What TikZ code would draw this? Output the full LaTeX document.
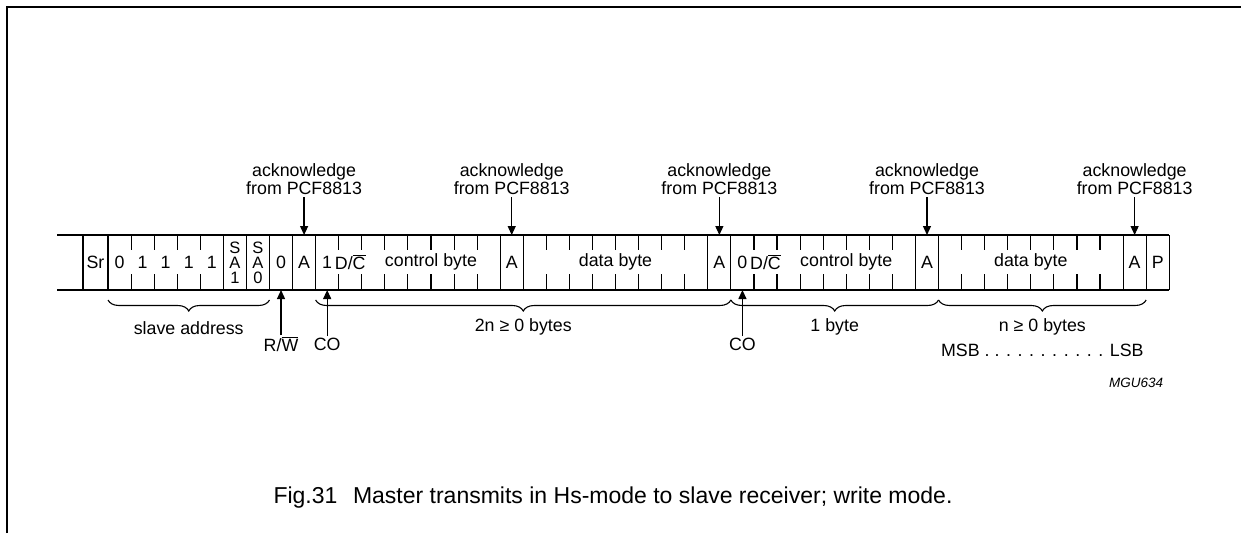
\documentclass[tikz,border=0pt]{standalone}
\usepackage{fontspec}
\setmainfont{Liberation Sans}
\usepackage{tikz}
\usetikzlibrary{arrows.meta,positioning,calc,decorations.pathreplacing}

\newcommand{\bitw}{23.07}
\newcommand{\ovl}[1]{$\overline{\mbox{#1}}$}

\begin{document}
\begin{tikzpicture}[x=1pt, y=-1pt, line width=1.1pt,
    font=\fontsize{17.8}{18}\selectfont,
    ptr/.style={-{Triangle[length=9pt, width=8pt]}, line width=1.2pt},
    grp/.style={decorate, decoration={brace, mirror, amplitude=11pt}, line width=1.1pt},
    lbl/.style={inner sep=1pt}]
    \useasboundingbox (0,0) rectangle (1241,533);

    % Page frame
    \draw[line width=1.6pt] (7,533) -- (7,7) -- (1241,7);

    % Bit boundaries
    \foreach \k in {0,...,46} {
        \coordinate (t\k) at ({108+\k*\bitw},235);
        \coordinate (b\k) at ({108+\k*\bitw},290);
    }

    % Strip outline and full separators
    \draw (57,235) -- (t46);
    \draw (57,290) -- (b46);
    \draw (83,235) -- (83,290);
    \foreach \k in {0,5,6,7,8,9,17,18,26,27,35,36,44,45,46}
        \draw (t\k) -- (b\k);

    % Short ticks inside bytes
    \foreach \k in {1,...,4,10,11,...,16,19,20,...,25,28,29,...,34,37,38,...,43} {
        \draw (t\k) -- ++(0,15);
        \draw (b\k) -- ++(0,-16);
    }

    % Field contents
    \node at (95.5,262) {Sr};
    \node at ({108+0.5*\bitw},262) {0};
    \foreach \k in {1,...,4}
        \node at ({108+(\k+0.5)*\bitw},262) {1};
    % stacked SA1 / SA0 bits
    \foreach \k/\d in {5/1,6/0} {
        \node[inner sep=0pt, font=\fontsize{16.5}{17}\selectfont] at ({108+(\k+0.5)*\bitw},247.5) {S};
        \node[inner sep=0pt, font=\fontsize{16.5}{17}\selectfont] at ({108+(\k+0.5)*\bitw},262.5) {A};
        \node[inner sep=0pt, font=\fontsize{16.5}{17}\selectfont] at ({108+(\k+0.5)*\bitw},277.5) {\d};
    }
    \node at ({108+7.5*\bitw},262) {0};
    \foreach \k in {8,17,26,35,44}
        \node at ({108+(\k+0.5)*\bitw},262) {A};
    \node at ({108+45.5*\bitw},262) {P};

    \node at ({108+9.5*\bitw},262) {1};
    \node at ({108+10.5*\bitw},262) {D/\ovl{C}};
    \node at ({108+14*\bitw},262) {control byte};
    \node at ({108+22*\bitw},262) {data byte};
    \node at ({108+27.5*\bitw},262) {0};
    \node at ({108+28.5*\bitw},262) {D/\ovl{C}};
    \node at ({108+32*\bitw},262) {control byte};
    \node at ({108+40*\bitw},262) {data byte};

    % Acknowledge pointers
    \foreach \k [count=\i] in {8,17,26,35,44} {
        \node[align=center, inner sep=2pt] (ack\i) at ({108+(\k+0.5)*\bitw},179)
            {acknowledge\\from PCF8813};
        \coordinate (in\i) at ({108+(\k+0.5)*\bitw},235);
        \draw[ptr] (ack\i.south) -- (in\i);
    }

    % Bit pointers from below
    \node[lbl] (rw) at ({108+7.5*\bitw},344) {R/\ovl{W}};
    \node[lbl] (co1) at ({108+9.5*\bitw},344) {CO};
    \node[lbl] (co2) at ({108+27.5*\bitw},344) {CO};
    \draw[ptr] (rw.north) -- ($(b7)!0.5!(b8)$);
    \draw[ptr] (co1.north) -- ($(b9)!0.5!(b10)$);
    \draw[ptr] (co2.north) -- ($(b27)!0.5!(b28)$);

    % Groupings
    \draw[grp] ($(b0)+(0,10)$) -- ($(b7)+(0,10)$);
    \draw[grp] ($(b9)+(0,10)$) -- ($(b27)+(0,10)$);
    \draw[grp] ($(b27)+(0,10)$) -- ($(b36)+(0,10)$);
    \draw[grp] ($(b36)+(0,10)$) -- ($(b45)+(0,10)$);
    \node (sa) at ($(b0)!0.5!(b7)+(0,38)$) {slave address};
    \node (g2n) at ($(b9)!0.5!(b27)+(0,37)$) {2n ≥ 0 bytes};
    \node (g1) at ($(b27)!0.5!(b36)+(0,37)$) {1 byte};
    \node (gn) at ($(b36)!0.5!(b45)+(0,37)$) {n ≥ 0 bytes};
    \node (msb) at ($(b36)!0.5!(b45)+(0,60)$) {MSB . . . . . . . . . . . LSB};

    \node[anchor=east, font=\fontsize{13.5}{14}\itshape] (tag) at (1167,383) {MGU634};

    % Caption
    \node[font=\fontsize{23}{24}\selectfont] (cap) at (613,498)
        {Fig.31\hspace{0.4em} Master transmits in Hs-mode to slave receiver; write mode.};
\end{tikzpicture}
\end{document}
